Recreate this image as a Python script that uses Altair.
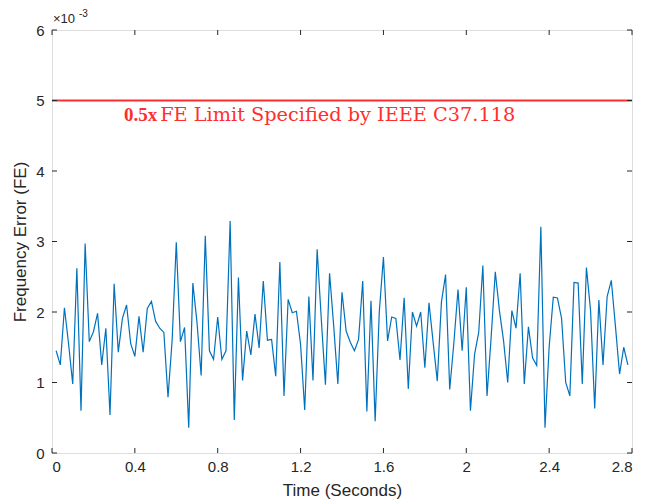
import altair as alt
import pandas as pd

# Frequency error values, in units of 1e-3 (FE)
fe_milli = [
    1.45, 1.25, 2.06, 1.55, 0.98, 2.62, 0.60, 2.97, 1.58, 1.72,
    1.98, 1.25, 1.77, 0.54, 2.40, 1.43, 1.91, 2.10, 1.55, 1.37,
    1.94, 1.43, 2.05, 2.15, 1.87, 1.77, 1.71, 0.79, 1.60, 2.99,
    1.58, 1.78, 0.36, 2.41, 1.85, 1.10, 3.08, 1.45, 1.33, 1.93,
    1.33, 1.45, 3.29, 0.47, 2.49, 1.03, 1.73, 1.39, 1.97, 1.49,
    2.44, 1.60, 1.61, 1.09, 2.71, 0.81, 2.18, 1.99, 2.01, 1.54,
    0.61, 2.22, 1.03, 2.89, 1.90, 0.97, 2.55, 1.80, 0.98, 2.28,
    1.73, 1.57, 1.45, 1.61, 2.44, 0.59, 2.16, 0.45, 2.00, 2.78,
    1.59, 1.93, 1.91, 1.32, 2.20, 0.91, 2.00, 1.80, 2.00, 1.21,
    2.13, 1.57, 1.02, 2.14, 2.53, 0.90, 1.56, 2.32, 1.45, 2.35,
    0.60, 1.40, 1.71, 2.66, 0.81, 1.64, 2.57, 2.02, 1.59, 1.00,
    2.02, 1.77, 2.55, 0.98, 1.79, 1.35, 1.24, 3.21, 0.36, 1.50,
    2.21, 2.20, 1.91, 1.00, 0.81, 2.42, 2.41, 0.98, 2.63, 2.02,
    0.63, 2.17, 1.25, 2.22, 2.45, 1.80, 1.12, 1.50, 1.25,
]
sample_step = 0.02  # seconds between reports
time_s = [round(sample_step * (i + 1), 3) for i in range(len(fe_milli))]

limit_milli = [5.0]
limit_span = [0.0, 2.8]
x_ticks = [0, 0.4, 0.8, 1.2, 1.6, 2.0, 2.4, 2.8]
y_ticks = [0, 1, 2, 3, 4, 5, 6]
limit_label_bold = "0.5x"
limit_label_rest = "FE Limit Specified by IEEE C37.118"
exp_base = "\u00d710"
exp_power = "-3"

W, H = 580, 423
AX = "#262626"
FONT = "Liberation Sans"
RED = "#ff2e2e"

xscale = alt.Scale(domain=[0, 2.8], nice=False, zero=False)
yscale = alt.Scale(domain=[0, 6], nice=False, zero=True)

df = pd.DataFrame({"t": time_s, "fe": fe_milli})
df_limit = pd.DataFrame({"t": limit_span, "fe": limit_milli * 2})
df_xt = pd.DataFrame({"v": x_ticks})
df_yt = pd.DataFrame({"v": y_ticks})

x_axis = alt.Axis(values=x_ticks, format="~g", ticks=False, domain=False, grid=False,
                  labelFont=FONT, labelFontSize=15, labelColor=AX, labelPadding=6,
                  title="Time (Seconds)", titleFont=FONT, titleFontSize=17,
                  titleFontWeight="normal", titleColor=AX, titlePadding=8)
y_axis = alt.Axis(values=y_ticks, format="~g", ticks=False, domain=False, grid=False,
                  labelFont=FONT, labelFontSize=15, labelColor=AX, labelPadding=8,
                  title="Frequency Error (FE)", titleFont=FONT, titleFontSize=17,
                  titleFontWeight="normal", titleColor=AX, titlePadding=6)

line = alt.Chart(df).mark_line(color="#0072BD", strokeWidth=1.2).encode(
    x=alt.X("t:Q", scale=xscale, axis=x_axis),
    y=alt.Y("fe:Q", scale=yscale, axis=y_axis),
)

limit = alt.Chart(df_limit).mark_line(color=RED, strokeWidth=2).encode(
    x=alt.X("t:Q", scale=xscale),
    y=alt.Y("fe:Q", scale=yscale),
)

# inward ticks, MATLAB box style
xt_bottom = alt.Chart(df_xt).mark_rule(color=AX, strokeWidth=1).encode(
    x=alt.X("v:Q", scale=xscale), y=alt.value(H), y2=alt.value(H - 5))
xt_top = alt.Chart(df_xt).mark_rule(color=AX, strokeWidth=1).encode(
    x=alt.X("v:Q", scale=xscale), y=alt.value(0), y2=alt.value(5))
yt_left = alt.Chart(df_yt).mark_rule(color=AX, strokeWidth=1).encode(
    y=alt.Y("v:Q", scale=yscale), x=alt.value(0), x2=alt.value(5))
yt_right = alt.Chart(df_yt).mark_rule(color=AX, strokeWidth=1).encode(
    y=alt.Y("v:Q", scale=yscale), x=alt.value(W - 5), x2=alt.value(W))

label_bold = alt.Chart(pd.DataFrame({"t": [0.347], "fe": [4.8], "s": [limit_label_bold]})).mark_text(
    align="left", baseline="middle", font="Liberation Serif", fontSize=19, fontWeight="bold", color=RED
).encode(x=alt.X("t:Q", scale=xscale), y=alt.Y("fe:Q", scale=yscale), text="s:N")

label_rest = alt.Chart(pd.DataFrame({"t": [0.522], "fe": [4.8], "s": [limit_label_rest]})).mark_text(
    align="left", baseline="middle", font="DejaVu Serif", fontSize=19.3, color=RED
).encode(x=alt.X("t:Q", scale=xscale), y=alt.Y("fe:Q", scale=yscale), text="s:N")

exp_a = alt.Chart(pd.DataFrame({"t": [0.0], "fe": [6.0], "s": [exp_base]})).mark_text(
    align="left", baseline="alphabetic", dx=1, dy=-7, font=FONT, fontSize=13, color=AX
).encode(x=alt.X("t:Q", scale=xscale), y=alt.Y("fe:Q", scale=yscale), text="s:N")
exp_b = alt.Chart(pd.DataFrame({"t": [0.0], "fe": [6.0], "s": [exp_power]})).mark_text(
    align="left", baseline="alphabetic", dx=27, dy=-13, font=FONT, fontSize=10, color=AX
).encode(x=alt.X("t:Q", scale=xscale), y=alt.Y("fe:Q", scale=yscale), text="s:N")

chart = alt.layer(
    line, limit, xt_bottom, xt_top, yt_left, yt_right, label_bold, label_rest, exp_a, exp_b
).properties(
    width=W, height=H,
    autosize=alt.AutoSizeParams(type="none"),
    padding={"left": 44, "top": 22, "right": 17, "bottom": 49},
).configure_view(stroke=AX, strokeWidth=1).configure(background="white")

chart.save("out.html", embed_options={"renderer": "svg", "actions": False})
